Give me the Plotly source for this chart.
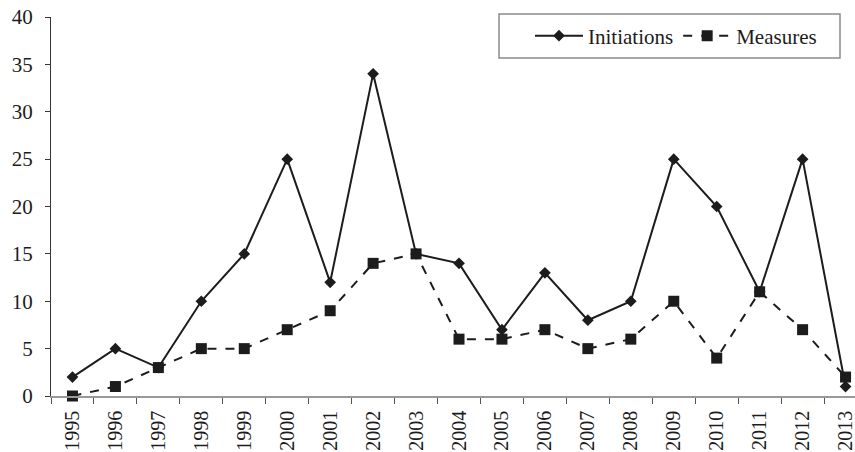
import plotly.graph_objects as go

years = [str(y) for y in range(1995, 2014)]
initiations = [2, 5, 3, 10, 15, 25, 12, 34, 15, 14, 7, 13, 8, 10, 25, 20, 11, 25, 1]
measures = [0, 1, 3, 5, 5, 7, 9, 14, 15, 6, 6, 7, 5, 6, 10, 4, 11, 7, 2]
y_ticks = [0, 5, 10, 15, 20, 25, 30, 35, 40]

FONT = "Liberation Serif"
INK = "#1c1c1c"
W, H = 855, 452

fig = go.Figure()
fig.add_trace(go.Scatter(
    x=years, y=initiations, name="Initiations", mode="lines+markers",
    line=dict(color=INK, width=2),
    marker=dict(symbol="diamond", size=9, color=INK),
    cliponaxis=False,
))
fig.add_trace(go.Scatter(
    x=years, y=measures, name="Measures", mode="lines+markers",
    line=dict(color=INK, width=2, dash="dash"),
    marker=dict(symbol="square", size=11, color=INK),
    cliponaxis=False,
))

# legend frame
fig.add_shape(type="rect", xref="paper", yref="paper",
              x0=499 / W, x1=840 / W, y0=1 - 58 / H, y1=1 - 14 / H,
              line=dict(color="#8a8a8a", width=1.5), fillcolor="rgba(0,0,0,0)", layer="above")

fig.update_layout(
    width=W, height=H,
    margin=dict(l=0, r=0, t=0, b=0),
    paper_bgcolor="white", plot_bgcolor="white",
    font=dict(family=FONT, size=20, color=INK),
    showlegend=True,
    legend=dict(
        orientation="h", x=676 / W, xanchor="center",
        y=1 - 36 / H, yanchor="middle",
        borderwidth=0, bgcolor="rgba(0,0,0,0)",
        font=dict(family=FONT, size=21, color=INK),
        itemwidth=48, tracegroupgap=0,
    ),
    xaxis=dict(
        type="category", range=[-0.5, 18.22], domain=[51 / W, 1],
        automargin=False,
        showline=True, linecolor="#999999", linewidth=1.5,
        ticks="outside", tickson="boundaries", ticklen=6, tickcolor="#555555",
        tickangle=-90, showgrid=False, zeroline=False, ticklabelstandoff=5,
        tickfont=dict(family=FONT, size=20, color=INK),
    ),
    yaxis=dict(
        range=[0, 40], tickvals=y_ticks, domain=[1 - 396 / H, 1 - 17 / H],
        automargin=False,
        showline=True, linecolor="#333333", linewidth=1,
        ticks="outside", ticklen=5, tickcolor="#333333",
        showgrid=False, zeroline=False, ticklabelstandoff=8,
        tickfont=dict(family=FONT, size=21, color=INK),
    ),
)

fig.write_html("out.html", config={"displayModeBar": False},
               post_script="document.body.style.margin='0';document.body.style.overflow='hidden';")
